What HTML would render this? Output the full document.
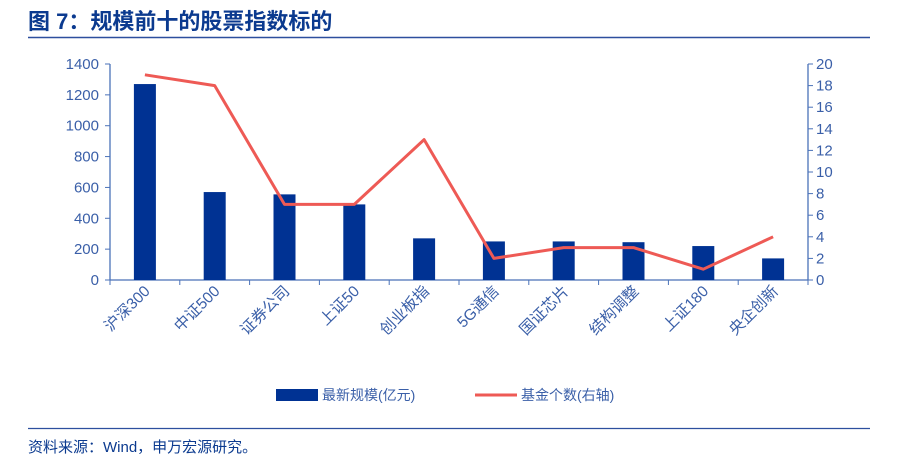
<!DOCTYPE html><html><head><meta charset="utf-8"><style>body{margin:0;background:#fff}svg{display:block}text{font-family:"Liberation Sans","Noto Sans CJK SC",sans-serif}</style></head><body>
<svg width="898" height="467" viewBox="0 0 898 467">
<text x="28" y="29" font-size="22" font-weight="bold" fill="#0b3a8f">图 7：规模前十的股票指数标的</text>
<line x1="28" y1="37.5" x2="870" y2="37.5" stroke="#2d4f9e" stroke-width="1.5"/>
<g stroke="#4a72b8" stroke-width="1.3" fill="none">
<line x1="110" y1="64" x2="110" y2="280"/><line x1="808" y1="64" x2="808" y2="280"/><line x1="110" y1="280" x2="808" y2="280"/>
</g>
<g font-size="15" fill="#3a5fa8" text-anchor="end" id="l"></g>
<g font-size="15" fill="#3a5fa8" id="r"></g>
<g id="b" fill="#003293"></g>
<polyline id="p" fill="none" stroke="#ee5a55" stroke-width="3" stroke-linejoin="round"/>
<g id="c" font-size="15.5" fill="#3a5fa8"></g>
<rect x="276" y="389" width="42" height="12" fill="#003293"/>
<text x="322" y="400" font-size="14" fill="#3a5fa8">最新规模(亿元)</text>
<line x1="475" y1="395" x2="517" y2="395" stroke="#ee5a55" stroke-width="3"/>
<text x="521" y="400" font-size="14" fill="#3a5fa8">基金个数(右轴)</text>
<line x1="28" y1="428.5" x2="870" y2="428.5" stroke="#2d4f9e" stroke-width="1.2"/>
<text x="28" y="452" font-size="15" fill="#0b3a8f">资料来源：Wind，申万宏源研究。</text>
<script>
var ns="http://www.w3.org/2000/svg";function el(t,a,p,tx){var e=document.createElementNS(ns,t);for(var k in a)e.setAttribute(k,a[k]);if(tx)e.textContent=tx;document.getElementById(p).appendChild(e);return e}
for(var i=0;i<=7;i++){var y=280-i*216/7;el("text",{x:99,y:y+5},"l",String(i*200));el("line",{x1:105,y1:y,x2:110,y2:y,stroke:"#4a72b8"},"b");}
for(var i=0;i<=10;i++){var y=280-i*21.6;el("text",{x:816,y:y+5},"r",String(i*2));el("line",{x1:808,y1:y,x2:813,y2:y,stroke:"#4a72b8"},"b");}
var v=[1270,570,555,490,270,250,250,245,220,140],n=[19,18,7,7,13,2,3,3,1,4],c=["沪深300","中证500","证券公司","上证50","创业板指","5G通信","国证芯片","结构调整","上证180","央企创新"],pts=[];
for(var i=0;i<10;i++){var cx=110+69.8*(i+.5),h=v[i]*216/1400;el("rect",{x:cx-11,y:280-h,width:22,height:h},"b");pts.push(cx+","+(280-n[i]*10.8));
el("line",{x1:110+69.8*(i+1),y1:280,x2:110+69.8*(i+1),y2:285,stroke:"#4a72b8"},"b");
el("text",{x:0,y:0,"text-anchor":"end",transform:"translate("+(cx+6)+",292) rotate(-45)"},"c",c[i]);}
el("line",{x1:110,y1:280,x2:110,y2:285,stroke:"#4a72b8"},"b");
document.getElementById("p").setAttribute("points",pts.join(" "));
</script>
</svg></body></html>
